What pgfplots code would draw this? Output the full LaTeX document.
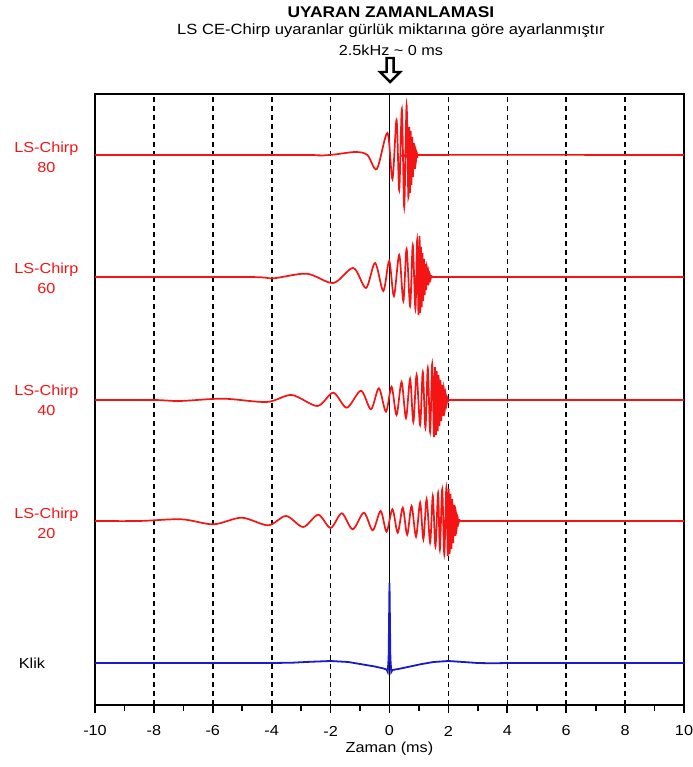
\documentclass[border=0pt]{standalone}
\usepackage{pgfplots}
\pgfplotsset{compat=1.18}
\usepackage{pgfplotstable}
\usepackage{fontspec}
\setmainfont{Liberation Sans}[FakeStretch=1.12]
\definecolor{chirpred}{RGB}{245,20,20}
\definecolor{klikblue}{RGB}{25,25,205}
\newcommand\fs{\fontsize{14.5bp}{20bp}\selectfont}

% offsets in px above the baseline, x in ms
\pgfplotstableread[row sep=\\]{
x y\\
-10 0\\ -3 0\\ -2.4 -0.6\\ -1.9 0.4\\ -1.15 3\\ -0.75 0\\ -0.43 -14\\ -0.07 22\\
0.1 -24\\ 0.24 35\\ 0.33 -35\\ 0.42 46\\ 0.5 -52\\ 0.58 50\\ 0.64 -42\\
0.67 28\\ 0.695 -38\\ 0.72 24\\ 0.745 -30\\ 0.77 18\\ 0.795 -22\\ 0.82 12\\ 0.845 -14\\
0.87 7\\ 0.895 -7\\ 0.92 3\\ 0.945 -2\\ 0.98 0\\ 10 0\\
}\chirpA

\pgfplotstableread[row sep=\\]{
x y\\
-10 0\\ -4.8 0\\ -3.95 -1.3\\ -2.81 3.3\\ -1.91 -6\\ -1.23 9\\ -0.80 -11\\ -0.49 14\\
-0.21 -14\\ -0.01 16\\ 0.15 -19\\ 0.33 22\\ 0.47 -24\\ 0.58 28\\ 0.70 -29\\ 0.79 32\\
0.88 -32\\ 0.94 37\\ 0.985 -38\\ 1.02 41\\ 1.045 -36\\ 1.07 30\\ 1.095 -30\\ 1.12 24\\
1.145 -24\\ 1.17 18\\ 1.195 -18\\ 1.22 13\\ 1.245 -13\\ 1.27 9\\ 1.295 -8\\ 1.32 5\\
1.345 -4\\ 1.37 2.5\\ 1.395 -2\\ 1.42 1\\ 1.47 0\\ 10 0\\
}\chirpB

\pgfplotstableread[row sep=\\]{
x y\\
-10 0\\ -8 0\\ -7.11 -1\\ -5.65 1.3\\ -4.17 -2\\ -3.32 5\\ -2.45 -6\\ -1.91 7.3\\
-1.45 -7.7\\ -0.97 9.3\\ -0.63 -9.3\\ -0.36 11.7\\ -0.12 -11.7\\ 0.07 13.3\\ 0.24 -15\\
0.41 18\\ 0.56 -18\\ 0.70 21\\ 0.81 -22\\ 0.92 25\\ 1.04 -25\\ 1.13 28\\ 1.22 -28\\
1.30 32\\ 1.38 -32\\ 1.45 36\\ 1.51 -37\\ 1.545 33\\ 1.575 -35\\ 1.605 29\\ 1.635 -31\\
1.665 25\\ 1.695 -26\\ 1.725 20\\ 1.755 -21\\ 1.785 15\\ 1.815 -16\\ 1.845 11\\ 1.875 -11\\
1.905 6\\ 1.935 -5\\ 1.965 2.5\\ 1.995 -1.5\\ 2.04 0\\ 10 0\\
}\chirpC

\pgfplotstableread[row sep=\\]{
x y\\
-10 0\\ -8.5 0\\ -7.06 1.7\\ -5.98 -3.3\\ -5.02 3.3\\ -4.12 -4.3\\ -3.51 5\\ -2.93 -6\\
-2.42 6.3\\ -2.00 -7\\ -1.62 7.7\\ -1.25 -8.3\\ -0.87 8.3\\ -0.57 -9.3\\ -0.30 10\\
-0.10 -10.7\\ 0.10 11.7\\ 0.28 -11.7\\ 0.45 13.3\\ 0.60 -13.7\\ 0.75 15\\ 0.90 -15.7\\
1.04 18.3\\ 1.15 -18.3\\ 1.26 21.7\\ 1.38 -21.7\\ 1.47 25\\ 1.56 -25.7\\ 1.65 28\\
1.71 -28.7\\ 1.79 31.7\\ 1.86 -33.3\\ 1.93 33\\ 1.98 -35\\ 2.01 32\\ 2.04 -33\\
2.07 27\\ 2.10 -28\\ 2.13 22\\ 2.16 -22\\ 2.19 16\\ 2.22 -15\\ 2.25 10\\ 2.28 -8\\
2.31 4\\ 2.34 -2.5\\ 2.37 1\\ 2.42 0\\ 10 0\\
}\chirpD

\pgfplotstableread[row sep=\\]{
x y\\
-10 0\\ -4 0\\ -3.3 0.3\\ -2.7 1.2\\ -2.0 2\\ -1.4 1\\ -0.9 -1.5\\ -0.5 -3.5\\
-0.2 -5.5\\ -0.1 -6.5\\ -0.06 -9\\ -0.03 5\\ 0 80\\ 0.03 5\\ 0.06 -9\\ 0.1 -7\\
0.3 -6\\ 0.7 -3.5\\ 1.1 -1\\ 1.5 1\\ 2.0 2\\ 2.5 1\\ 3.0 0\\ 3.5 -0.3\\ 4 0\\ 10 0\\
}\klik

\begin{document}
\begin{tikzpicture}
\useasboundingbox (-95bp,-62bp) rectangle (598bp,705bp);
\begin{axis}[
  at={(0,0)}, anchor=south west,
  scale only axis, width=589bp, height=611bp,
  xmin=-10, xmax=10, ymin=-705, ymax=-94,
  xtick={-10,-8,...,10}, minor xtick={-9,-7,...,9},
  xtick pos=left, ytick=\empty,
  tick align=outside, major tick length=8bp, minor tick length=6bp,
  every tick/.style={draw=black, line width=1.7bp},
  axis line style={line width=1.7bp},
  xmajorgrids,
  major grid style={black, line width=1.6bp, dash pattern=on 5bp off 4bp},
  clip=false,
  xticklabel style={font=\fs, anchor=center, yshift=-18bp},
  /pgf/number format/assume math mode=true,
]
\draw[black, line width=1.9bp] (axis cs:0,-705) -- (axis cs:0,-94);

\addplot[chirpred, line width=1.7bp, smooth, tension=0.5] table[x=x, y expr=\thisrow{y}-155] {\chirpA};
\addplot[chirpred, line width=1.7bp, smooth, tension=0.5] table[x=x, y expr=\thisrow{y}-277] {\chirpB};
\addplot[chirpred, line width=1.7bp, smooth, tension=0.5] table[x=x, y expr=\thisrow{y}-400] {\chirpC};
\addplot[chirpred, line width=1.7bp, smooth, tension=0.5] table[x=x, y expr=\thisrow{y}-521] {\chirpD};
\addplot[klikblue, line width=1.8bp] table[x=x, y expr=\thisrow{y}-663] {\klik};

\node[chirpred, align=center, font=\fs] at (axis cs:-11.65,-157) {LS-Chirp\\80};
\node[chirpred, align=center, font=\fs] at (axis cs:-11.65,-278.5) {LS-Chirp\\60};
\node[chirpred, align=center, font=\fs] at (axis cs:-11.65,-400.5) {LS-Chirp\\40};
\node[chirpred, align=center, font=\fs] at (axis cs:-11.65,-523) {LS-Chirp\\20};
\node[black, font=\fs] at (axis cs:-12.14,-663) {Klik};

\node[font=\fs] at (axis cs:0,-749) {Zaman (ms)};
\node[font=\fontsize{15.5bp}{18bp}\selectfont\bfseries] at (axis cs:0.05,-12) {UYARAN ZAMANLAMASI};
\node[font=\fontsize{14.8bp}{20bp}\selectfont] at (axis cs:0.05,-31) {LS CE-Chirp uyaranlar gürlük miktarına göre ayarlanmıştır};
\node[font=\fs] at (axis cs:0.05,-50) {2.5kHz \textasciitilde\ 0 ms};

\draw[black, line width=2.4bp, fill=white, line join=miter]
  (axis cs:-0.10,-58) -- (axis cs:0.14,-58) -- (axis cs:0.14,-72) -- (axis cs:0.36,-72)
  -- (axis cs:0.02,-82) -- (axis cs:-0.32,-72) -- (axis cs:-0.10,-72) -- cycle;
\end{axis}
\end{tikzpicture}
\end{document}
